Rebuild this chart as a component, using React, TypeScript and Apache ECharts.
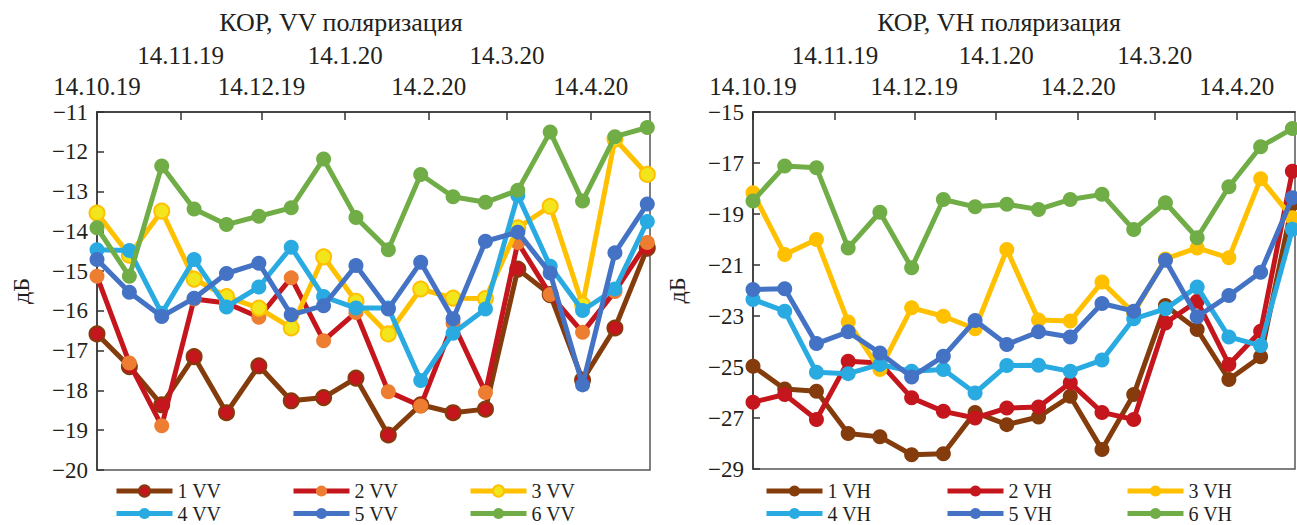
import React, { useEffect, useRef } from "react";
import * as echarts from "echarts";

const DATES = [
  "2019-10-14", "2019-10-26", "2019-11-07", "2019-11-19", "2019-12-01", "2019-12-13",
  "2019-12-25", "2020-01-06", "2020-01-18", "2020-01-30", "2020-02-11", "2020-02-23",
  "2020-03-06", "2020-03-18", "2020-03-30", "2020-04-11", "2020-04-23", "2020-05-05",
];
const MONTH_TICKS = ["2019-10-14", "2019-11-14", "2019-12-14", "2020-01-14", "2020-02-14", "2020-03-14", "2020-04-14"];
const MONTH_LABELS = ["14.10.19", "14.11.19", "14.12.19", "14.1.20", "14.2.20", "14.3.20", "14.4.20"];
const AXIS_START = "2019-10-14";
const AXIS_END = "2020-05-06";

const VV_NAMES = ["1 VV", "2 VV", "3 VV", "4 VV", "5 VV", "6 VV"];
const VH_NAMES = ["1 VH", "2 VH", "3 VH", "4 VH", "5 VH", "6 VH"];

const vv1 = [-16.58, -17.4, -18.36, -17.15, -18.56, -17.38, -18.26, -18.18, -17.69, -19.12, -18.36, -18.56, -18.47, -14.95, -15.59, -17.74, -16.43, -14.42];
const vv2 = [-15.13, -17.31, -18.89, -15.7, -15.8, -16.16, -15.17, -16.75, -16.04, -18.03, -18.39, -16.31, -18.05, -14.28, -15.59, -16.54, -15.51, -14.28];
const vv3 = [-13.54, -14.6, -13.49, -15.2, -15.64, -15.93, -16.43, -14.64, -15.76, -16.58, -15.45, -15.68, -15.69, -13.91, -13.37, -15.85, -11.68, -12.57];
const vv4 = [-14.46, -14.48, -16.06, -14.71, -15.9, -15.4, -14.4, -15.64, -15.93, -15.93, -17.75, -16.56, -15.95, -13.1, -14.88, -15.99, -15.45, -13.75];
const vv5 = [-14.71, -15.53, -16.14, -15.68, -15.06, -14.8, -16.1, -15.87, -14.86, -15.95, -14.78, -16.2, -14.25, -14.02, -15.05, -17.86, -14.54, -13.31];
const vv6 = [-13.91, -15.13, -12.36, -13.44, -13.83, -13.62, -13.41, -12.18, -13.65, -14.46, -12.57, -13.13, -13.27, -12.97, -11.5, -13.24, -11.62, -11.39];

const vh1 = [-24.97, -25.86, -25.95, -27.61, -27.74, -28.44, -28.4, -26.78, -27.26, -26.96, -26.15, -28.24, -26.08, -22.59, -23.53, -25.49, -24.6, -18.6];
const vh2 = [-26.38, -26.08, -27.06, -24.77, -24.84, -26.21, -26.74, -27.0, -26.61, -26.57, -25.62, -26.78, -27.06, -23.27, -22.42, -24.9, -23.6, -17.32];
const vh3 = [-18.17, -20.59, -20.0, -23.24, -25.1, -22.68, -23.01, -23.5, -20.39, -23.16, -23.2, -21.67, -22.88, -20.76, -20.33, -20.72, -17.62, -19.15];
const vh4 = [-22.35, -22.81, -25.21, -25.26, -24.9, -25.17, -25.1, -26.02, -24.94, -24.93, -25.17, -24.73, -23.11, -22.72, -21.86, -23.82, -24.16, -19.6];
const vh5 = [-21.96, -21.93, -24.08, -23.62, -24.45, -25.39, -24.58, -23.18, -24.12, -23.62, -23.82, -22.51, -22.81, -20.81, -23.03, -22.2, -21.28, -18.36];
const vh6 = [-18.49, -17.12, -17.19, -20.33, -18.93, -21.11, -18.43, -18.72, -18.62, -18.82, -18.43, -18.23, -19.61, -18.56, -19.93, -17.93, -16.36, -15.65];

const VH_TICKS = [-29, -27, -25, -23, -21, -19, -17, -15];

const LINE_COLORS = ["#843C0C", "#C4161C", "#FFC000", "#29ABE2", "#4472C4", "#70AD47"];
const VV_MARKERS = ["#C4161C", "#ED7D31", "#F2E51C", "#29ABE2", "#4472C4", "#70AD47"];
const VH_MARKERS = ["#843C0C", "#C4161C", "#FFC000", "#29ABE2", "#4472C4", "#70AD47"];

const FONT = "'Liberation Serif', 'Times New Roman', serif";
const TEXT = "#231F20";

const dayOf = (d: string) => {
  const [y, m, dd] = d.split("-").map(Number);
  const [y0, m0, d0] = AXIS_START.split("-").map(Number);
  return Math.round((Date.UTC(y, m - 1, dd) - Date.UTC(y0, m0 - 1, d0)) / 86400000);
};

export default function App() {
  const ref = useRef<HTMLDivElement>(null);
  useEffect(() => {
    if (!ref.current) return;
    const chart = echarts.init(ref.current, null, { renderer: "svg" });
    const xs = DATES.map(dayOf);
    const tickVals = MONTH_TICKS.map(dayOf);
    const labelOf = (v: number) => {
      const i = tickVals.indexOf(Math.round(v));
      return i >= 0 ? MONTH_LABELS[i] : "";
    };
    const lowerVals = tickVals.filter((_, i) => i % 2 === 0);
    const upperVals = tickVals.filter((_, i) => i % 2 === 1);
    const xMin = dayOf(AXIS_START);
    const xMax = dayOf(AXIS_END);

    const grids = [
      { left: 97, top: 112, width: 553, height: 358 },
      { left: 753, top: 112, width: 542, height: 357 },
    ];

    const xAxes: any[] = [];
    [0, 1].forEach((g) => {
      xAxes.push({
        type: "value",
        gridIndex: g,
        position: "top",
        min: xMin,
        max: xMax,
        axisLine: { show: true, lineStyle: { color: "#333", width: 1.5 } },
        axisTick: { show: true, inside: true, length: 8, customValues: tickVals, lineStyle: { color: "#333", width: 1.5 } },
        axisLabel: {
          show: true,
          customValues: lowerVals,
          formatter: (v: number) => labelOf(v),
          fontFamily: FONT,
          fontSize: 25,
          color: TEXT,
          margin: 13,
          hideOverlap: false,
        },
        splitLine: { show: false },
      });
      xAxes.push({
        type: "value",
        gridIndex: g,
        position: "top",
        offset: 31,
        min: xMin,
        max: xMax,
        axisLine: { show: false },
        axisTick: { show: false },
        axisLabel: {
          show: true,
          customValues: upperVals,
          formatter: (v: number) => labelOf(v),
          fontFamily: FONT,
          fontSize: 25,
          color: TEXT,
          margin: 13,
          hideOverlap: false,
        },
        splitLine: { show: false },
      });
    });

    const tickStyle = { show: true, inside: true, length: 7, lineStyle: { color: "#333", width: 1.5 } };
    const minusFmt = (v: number) => (v < 0 ? "\u2212" + Math.abs(v) : String(v));
    const yAxes = [
      {
        type: "value",
        gridIndex: 0,
        min: -20,
        max: -11,
        interval: 1,
        axisLine: { show: true, lineStyle: { color: "#333", width: 1.5 } },
        axisTick: tickStyle,
        splitLine: { show: false },
        axisLabel: { formatter: minusFmt, fontFamily: FONT, fontSize: 23, color: TEXT, margin: 9 },
        name: "дБ",
        nameLocation: "middle",
        nameGap: 64,
        nameTextStyle: { fontFamily: FONT, fontSize: 24, color: TEXT },
      },
      {
        type: "value",
        gridIndex: 1,
        min: -29,
        max: -15,
        axisLine: { show: true, lineStyle: { color: "#333", width: 1.5 } },
        axisTick: { ...tickStyle, customValues: VH_TICKS },
        splitLine: { show: false },
        axisLabel: { customValues: VH_TICKS, formatter: minusFmt, fontFamily: FONT, fontSize: 23, color: TEXT, margin: 9 },
        name: "дБ",
        nameLocation: "middle",
        nameGap: 64,
        nameTextStyle: { fontFamily: FONT, fontSize: 24, color: TEXT },
      },
    ];

    const mk = (name: string, vals: number[], i: number, panel: number) => {
      const fill = panel === 0 ? VV_MARKERS[i] : VH_MARKERS[i];
      const bordered = panel === 0 && (i === 0 || i === 2);
      return {
        name,
        type: "line",
        xAxisIndex: panel * 2,
        yAxisIndex: panel,
        data: vals.map((v, k) => [xs[k], v]),
        symbol: "circle",
        symbolSize: 15,
        showSymbol: true,
        clip: false,
        lineStyle: { color: LINE_COLORS[i], width: 5 },
        itemStyle: {
          color: fill,
          borderColor: bordered ? LINE_COLORS[i] : fill,
          borderWidth: bordered ? 2 : 0,
        },
        emphasis: { disabled: true },
        z: 2 + i,
      };
    };

    const vv = [vv1, vv2, vv3, vv4, vv5, vv6];
    const vh = [vh1, vh2, vh3, vh4, vh5, vh6];
    const series = [
      ...vv.map((d, i) => mk(VV_NAMES[i], d, i, 0)),
      ...vh.map((d, i) => mk(VH_NAMES[i], d, i, 1)),
    ];

    const legendCols = [[114, 291, 468], [764, 945, 1125]];
    const legendRows = [481, 503.5];
    const legends: any[] = [];
    [VV_NAMES, VH_NAMES].forEach((names, p) => {
      names.forEach((n, i) => {
        legends.push({
          data: [n],
          left: legendCols[p][i % 3],
          top: legendRows[Math.floor(i / 3)],
          padding: 0,
          itemWidth: 56,
          itemHeight: 14,
          itemGap: 0,
          selectedMode: false,
          lineStyle: { width: 5 },
          textStyle: { fontFamily: FONT, fontSize: 20, lineHeight: 20, color: TEXT },
        });
      });
    });

    chart.setOption({
      animation: false,
      backgroundColor: "#fff",
      grid: grids.map((g) => ({ ...g, show: true, borderColor: "#555", borderWidth: 1.5, backgroundColor: "transparent" })),
      xAxis: xAxes,
      yAxis: yAxes,
      legend: legends,
      series,
      graphic: [
        { type: "text", x: 341, y: 22, style: { text: "КОР, VV поляризация", fontFamily: FONT, fontSize: 26, fill: TEXT, align: "center", verticalAlign: "middle" } },
        { type: "text", x: 999, y: 22, style: { text: "КОР, VH поляризация", fontFamily: FONT, fontSize: 26, fill: TEXT, align: "center", verticalAlign: "middle" } },
      ],
    });
    return () => chart.dispose();
  }, []);
  return <div ref={ref} style={{ position: "absolute", left: 0, top: 0, width: 1297, height: 525 }} />;
}
